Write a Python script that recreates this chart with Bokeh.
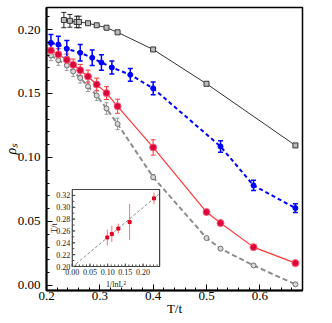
import math
from bokeh.plotting import figure
from bokeh.models import (ColumnDataSource, Whisker, TeeHead, Range1d,
                          NumeralTickFormatter, FixedTicker)
from bokeh.core.properties import value
from bokeh.embed import file_html
from bokeh.resources import INLINE

# ---------------- data (main panel) ----------------
black_x = [0.2326, 0.2439, 0.2564, 0.2610, 0.2778, 0.2941, 0.3125, 0.3333, 0.4, 0.5, 0.6667]
black_y = [0.2074, 0.2068, 0.2059, 0.2059, 0.2049, 0.2033, 0.2014, 0.1978, 0.1844, 0.1576, 0.1094]
black_err = [0.006, 0.005, 0.0045, 0.0045, 0.0008, 0.0008, 0.0008, 0.0008, 0.0008, 0.0008, 0.0008]

blue_x = [0.2083, 0.2222, 0.2381, 0.2632, 0.2857, 0.3030, 0.3226, 0.3571, 0.4, 0.5263, 0.5882, 0.6667]
blue_y = [0.1896, 0.1883, 0.1849, 0.1818, 0.1779, 0.1742, 0.1703, 0.1646, 0.1540, 0.1086, 0.0781, 0.0604]
blue_err = [0.0065, 0.0065, 0.0065, 0.0065, 0.006, 0.006, 0.005, 0.005, 0.005, 0.0045, 0.004, 0.0035]

red_x = [0.2083, 0.2222, 0.2381, 0.25, 0.2632, 0.2778, 0.2941, 0.3125, 0.3333, 0.4, 0.5, 0.5263, 0.5882, 0.6667]
red_y = [0.1836, 0.1805, 0.1763, 0.1724, 0.1682, 0.1633, 0.1570, 0.1503, 0.1400, 0.1078, 0.0573, 0.0487, 0.0299, 0.0174]
red_err = [0.0045, 0.0045, 0.0045, 0.0045, 0.0045, 0.005, 0.005, 0.005, 0.0055, 0.006, 0.001, 0.001, 0.002, 0.002]

gray_x = [0.2083, 0.2222, 0.2381, 0.25, 0.2632, 0.2778, 0.2941, 0.3125, 0.3333, 0.4, 0.5, 0.5263, 0.5882, 0.6667]
gray_y = [0.1797, 0.1760, 0.1719, 0.1672, 0.1621, 0.1555, 0.1484, 0.1383, 0.1262, 0.0846, 0.0370, 0.0287, 0.0156, 0.0008]
gray_err = [0.004, 0.004, 0.004, 0.004, 0.004, 0.004, 0.004, 0.0045, 0.0045, 0.002, 0.001, 0.001, 0.001, 0.001]

main_xticks = [0.2, 0.3, 0.4, 0.5, 0.6]
main_yticks = [0.0, 0.05, 0.10, 0.15, 0.20]

# ---------------- data (inset) ----------------
inset_x = [0.0990, 0.1118, 0.1302, 0.1622, 0.2311]   # 1/ln^2 L
inset_y = [0.249, 0.255, 0.264, 0.275, 0.315]
inset_err = [0.0135, 0.0135, 0.0085, 0.0305, 0.010]
fit_intercept = 0.199
fit_slope = 0.502
inset_xticks = [0.0, 0.05, 0.10, 0.15, 0.20]
inset_xtick_labels = ["0.00", "0.05", "0.10", "0.15", "0.20"]
inset_yticks = [0.20, 0.22, 0.24, 0.26, 0.28, 0.30, 0.32]
inset_ytick_labels = ["0.20", "0.22", "0.24", "0.26", "0.28", "0.30", "0.32"]
inset_xlim = (0.0, 0.247)
inset_ylim = (0.20, 0.33)

SERIF = "Liberation Serif"

# ---------------- layout geometry (pixels) ----------------
W, H = 331, 322
BL, BR, BT, BB = 44, 29, 7, 32            # main frame borders
FL, FR, FT, FB = BL, W - BR, BT, H - BB   # main frame box
IL, IR, IT, IB = 70, 158, 189, 266        # inset frame box

# ---------------- main figure ----------------
p = figure(width=W, height=H, output_backend="svg", toolbar_location=None,
           x_range=Range1d(0.2, 0.68), y_range=Range1d(-0.004, 0.2172),
           min_border_left=BL, min_border_right=BR, min_border_top=BT, min_border_bottom=BB)
p.xgrid.visible = False
p.ygrid.visible = False
p.outline_line_color = "black"
p.outline_line_width = 1.5
p.background_fill_color = "white"
p.border_fill_color = "white"

for ax in (p.xaxis[0], p.yaxis[0]):
    ax.axis_line_width = 2
    ax.axis_line_color = "black"
    ax.major_tick_in = 6
    ax.major_tick_out = 0
    ax.minor_tick_in = 3
    ax.minor_tick_out = 0
    ax.major_tick_line_color = "black"
    ax.minor_tick_line_color = "black"
    ax.major_label_text_font = SERIF
    ax.major_label_text_font_size = "13px"
    ax.major_label_text_color = "black"
    ax.axis_label_text_font = SERIF
    ax.axis_label_text_color = "black"

p.xaxis[0].ticker = FixedTicker(ticks=main_xticks,
                                minor_ticks=[0.2 + 0.02 * i for i in range(25)])
p.yaxis[0].ticker = FixedTicker(ticks=main_yticks,
                                minor_ticks=[0.01 * i for i in range(22)])
p.xaxis[0].formatter = NumeralTickFormatter(format="0.0")
p.yaxis[0].formatter = NumeralTickFormatter(format="0.00")
p.xaxis[0].major_label_standoff = 1
p.yaxis[0].major_label_standoff = 6
p.xaxis[0].axis_label = "T/t"
p.xaxis[0].axis_label_text_font_size = "13px"
p.xaxis[0].axis_label_text_font_style = "normal"
p.xaxis[0].axis_label_standoff = -2
p.yaxis[0].axis_label = "ρₛ"
p.yaxis[0].axis_label_text_font_size = "14px"
p.yaxis[0].axis_label_text_font_style = "italic"
p.yaxis[0].axis_label_standoff = -4


def add_err(fig, xs, ys, es, color, width=1.0, head=5):
    src = ColumnDataSource(dict(x=xs, lo=[y - e for y, e in zip(ys, es)],
                                hi=[y + e for y, e in zip(ys, es)]))
    w = Whisker(source=src, base="x", upper="hi", lower="lo",
                line_color=color, line_width=width,
                upper_head=TeeHead(size=head, line_color=color, line_width=width),
                lower_head=TeeHead(size=head, line_color=color, line_width=width))
    fig.add_layout(w)


# gray series (dashed)
p.line(gray_x, gray_y, line_color="#8c8c8c", line_width=2, line_dash="5 3")
add_err(p, gray_x, gray_y, gray_err, "#9a9a9a", 1.0, 4)
p.scatter(gray_x, gray_y, marker="circle", size=5, fill_color="#d8d8d8",
          line_color="#707070", line_width=1)

# red series
p.line(red_x, red_y, line_color="#ff3838", line_width=1.2)
add_err(p, red_x, red_y, red_err, "#ff3838", 1.0, 5)
p.scatter(red_x, red_y, marker="circle", size=7, fill_color="#d8063a",
          line_color="#ff5a7a", line_width=1)

# blue series (dashed)
p.line(blue_x, blue_y, line_color="#0000ff", line_width=2, line_dash="4 3")
add_err(p, blue_x, blue_y, blue_err, "#0000ff", 1.5, 5)
p.scatter(blue_x, blue_y, marker="circle", size=5, fill_color="#0000ff",
          line_color="#0000ff")

# black series
p.line(black_x, black_y, line_color="#333333", line_width=1)
add_err(p, black_x, black_y, black_err, "#222222", 1.0, 5)
p.scatter(black_x, black_y, marker="square", size=5, fill_color="#bbbbbb",
          line_color="#333333", line_width=1)

# ---------------- inset: its own ranges mapped onto the inset box ----------------
kx = (IR - IL) / (inset_xlim[1] - inset_xlim[0])   # px per inset-x unit
ky = (IB - IT) / (inset_ylim[1] - inset_ylim[0])   # px per inset-y unit
p.extra_x_ranges = {"ix": Range1d(inset_xlim[0] - (IL - FL) / kx,
                                  inset_xlim[1] + (FR - IR) / kx)}
p.extra_y_ranges = {"iy": Range1d(inset_ylim[0] - (FB - IB) / ky,
                                  inset_ylim[1] + (IT - FT) / ky)}
R = dict(x_range_name="ix", y_range_name="iy")

# inset frame
p.quad(left=[inset_xlim[0]], right=[inset_xlim[1]], bottom=[inset_ylim[0]],
       top=[inset_ylim[1]], fill_color="white", line_color="#444444",
       line_width=1.2, **R)

# inset ticks (inward)
p.ray(x=inset_xticks, y=[inset_ylim[0]] * len(inset_xticks), length=3,
      length_units="screen", angle=math.pi / 2, line_color="#444444", **R)
xminor = [0.01 * i for i in range(25)]
p.ray(x=xminor, y=[inset_ylim[0]] * len(xminor), length=2,
      length_units="screen", angle=math.pi / 2, line_color="#444444", **R)
p.ray(x=[inset_xlim[0]] * len(inset_yticks), y=inset_yticks, length=3,
      length_units="screen", angle=0, line_color="#444444", **R)
yminor = [0.20 + 0.01 * i for i in range(14)]
p.ray(x=[inset_xlim[0]] * len(yminor), y=yminor, length=2,
      length_units="screen", angle=0, line_color="#444444", **R)

# inset tick labels
p.text(x=inset_xticks, y=[inset_ylim[0]] * len(inset_xticks), text=inset_xtick_labels,
       text_font=value(SERIF), text_font_size="8px", text_color="#222222",
       text_align="center", text_baseline="top", y_offset=2, **R)
p.text(x=[inset_xlim[0]] * len(inset_yticks), y=inset_yticks, text=inset_ytick_labels,
       text_font=value(SERIF), text_font_size="8px", text_color="#222222",
       text_align="right", text_baseline="middle", x_offset=-2, **R)

# inset axis titles
p.text(x=[(inset_xlim[0] + inset_xlim[1]) / 2], y=[inset_ylim[0]], text=["1/lnL²"],
       text_font=value(SERIF), text_font_size="8px", text_color="#222222",
       text_align="center", text_baseline="top", y_offset=13, **R)
p.text(x=[inset_xlim[0] - 18 / kx], y=[(inset_ylim[0] + inset_ylim[1]) / 2], text=["T/t"],
       text_font=value(SERIF), text_font_size="8px", text_color="#222222",
       text_align="center", text_baseline="middle", angle=math.pi / 2, **R)

# inset data
fit_x = [inset_xlim[0], inset_xlim[1]]
fit_y = [fit_intercept + fit_slope * x for x in fit_x]
p.line(fit_x, fit_y, line_color="#8a8a8a", line_width=1, line_dash="3 2", **R)
p.segment(inset_x, [y - e for y, e in zip(inset_y, inset_err)],
          inset_x, [y + e for y, e in zip(inset_y, inset_err)],
          line_color="#ff7070", line_width=1, **R)
p.scatter(inset_x, inset_y, marker="square", size=3, fill_color="#e00020",
          line_color="#e00020", **R)

open("out.html", "w").write(file_html(p, INLINE))
